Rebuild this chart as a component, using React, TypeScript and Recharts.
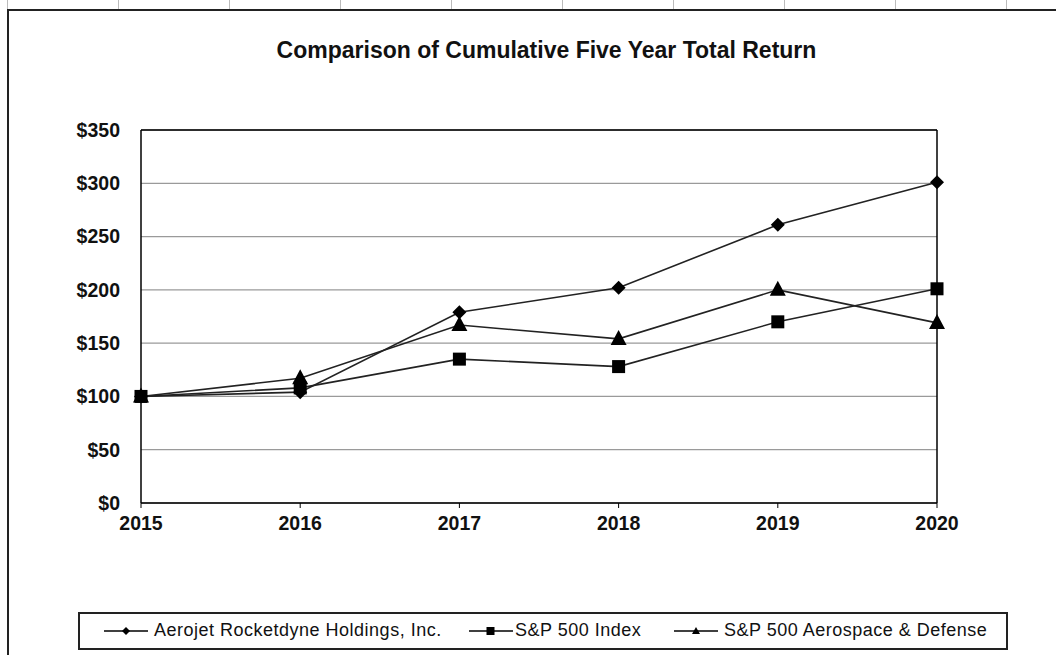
import type { FC } from "react";
import {
  CartesianGrid,
  Line,
  LineChart,
  ReferenceLine,
  XAxis,
  YAxis,
} from "recharts";

// values (indexed to $100 in 2015)
const years = [2015, 2016, 2017, 2018, 2019, 2020];
const aerojet = [100, 104, 179, 202, 261, 301];
const sp500 = [100, 108, 135, 128, 170, 201];
const aeroDefense = [100, 117, 167, 154, 200, 169];
const yTicks = [0, 50, 100, 150, 200, 250, 300, 350];

const seriesNames = [
  "Aerojet Rocketdyne Holdings, Inc.",
  "S&P 500 Index",
  "S&P 500 Aerospace & Defense",
];

const data = years.map((year, i) => ({
  year,
  aerojet: aerojet[i],
  sp500: sp500[i],
  aeroDefense: aeroDefense[i],
}));

const FONT = '"Liberation Sans", Arial, sans-serif';

type DotProps = { cx?: number; cy?: number };

const Diamond = ({ cx, cy }: DotProps) =>
  cx == null || cy == null ? null : (
    <path
      d={`M${cx},${cy - 7}L${cx + 7},${cy}L${cx},${cy + 7}L${cx - 7},${cy}Z`}
      fill="#000"
    />
  );

const Square = ({ cx, cy }: DotProps) =>
  cx == null || cy == null ? null : (
    <rect x={cx - 6.5} y={cy - 6.5} width={13} height={13} fill="#000" />
  );

const Triangle = ({ cx, cy }: DotProps) =>
  cx == null || cy == null ? null : (
    <path
      d={`M${cx},${cy - 9}L${cx + 8},${cy + 6}L${cx - 8},${cy + 6}Z`}
      fill="#000"
    />
  );

// small legend sample: line with marker in the middle
const LegendSample: FC<{ kind: number }> = ({ kind }) => (
  <svg width={44} height={14} style={{ display: "block" }}>
    <line x1={0} y1={7} x2={44} y2={7} stroke="#000" strokeWidth={1.5} />
    {kind === 0 && <path d="M22,3L26,7L22,11L18,7Z" fill="#000" />}
    {kind === 1 && <rect x={17.5} y={3} width={8} height={8} fill="#000" />}
    {kind === 2 && <path d="M22,3L26,10L18,10Z" fill="#000" />}
  </svg>
);

// legend item x positions (sample start, text start), relative to the box
const legendSampleX = [24, 389, 594];
const legendTextX = [74, 435, 644];

const App: FC = () => {
  const pageTicks = [7, 118, 229, 340, 451, 562, 673, 784, 895, 1006];
  return (
    <div
      style={{
        position: "absolute",
        left: 0,
        top: 0,
        width: 1056,
        height: 655,
        overflow: "hidden",
        background: "#fff",
        fontFamily: FONT,
      }}
    >
      {pageTicks.map((x) => (
        <div
          key={x}
          style={{
            position: "absolute",
            left: x,
            top: 0,
            width: 1,
            height: 9,
            background: "#bbb",
          }}
        />
      ))}
      {/* outer chart frame */}
      <div
        style={{
          position: "absolute",
          left: 7,
          top: 9,
          width: 1100,
          height: 700,
          borderLeft: "2px solid #222",
          borderTop: "2px solid #222",
        }}
      />
      <div
        style={{
          position: "absolute",
          left: 0,
          top: 37,
          width: 1093,
          textAlign: "center",
          fontSize: 23,
          fontWeight: "bold",
          color: "#111",
        }}
      >
        Comparison of Cumulative Five Year Total Return
      </div>

      <div style={{ position: "absolute", left: 0, top: 0 }}>
        <LineChart
          width={1056}
          height={655}
          data={data}
          margin={{ top: 130, right: 119, bottom: 122, left: 76 }}
        >
          <CartesianGrid
            horizontal
            vertical={false}
            stroke="#9a9a9a"
            strokeWidth={1.3}
          />
          <XAxis
            dataKey="year"
            type="number"
            domain={[2015, 2020]}
            ticks={years}
            height={30}
            axisLine={{ stroke: "#000", strokeWidth: 1.5 }}
            tickLine={{ stroke: "#000", strokeWidth: 1 }}
            tickSize={5}
            tick={{
              fill: "#111",
              fontSize: 19.5,
              fontWeight: "bold",
              fontFamily: FONT,
            }}
            tickMargin={8}
          />
          <YAxis
            domain={[0, 350]}
            ticks={yTicks}
            width={65}
            axisLine={{ stroke: "#000", strokeWidth: 1.5 }}
            tickLine={false}
            tickFormatter={(v: number) => `$${v}`}
            tick={{
              fill: "#111",
              fontSize: 19.5,
              fontWeight: "bold",
              fontFamily: FONT,
            }}
            tickMargin={15}
          />
          <ReferenceLine y={350} stroke="#000" strokeWidth={1.5} />
          <ReferenceLine x={2020} stroke="#000" strokeWidth={1.5} />
          <Line
            dataKey="aerojet"
            name={seriesNames[0]}
            type="linear"
            stroke="#222"
            strokeWidth={1.6}
            dot={<Diamond />}
            isAnimationActive={false}
          />
          <Line
            dataKey="sp500"
            name={seriesNames[1]}
            type="linear"
            stroke="#222"
            strokeWidth={1.6}
            dot={<Square />}
            isAnimationActive={false}
          />
          <Line
            dataKey="aeroDefense"
            name={seriesNames[2]}
            type="linear"
            stroke="#222"
            strokeWidth={1.6}
            dot={<Triangle />}
            isAnimationActive={false}
          />
        </LineChart>
      </div>

      {/* legend box */}
      <div
        style={{
          position: "absolute",
          left: 78,
          top: 612,
          width: 930,
          height: 38,
          boxSizing: "border-box",
          border: "2px solid #222",
          fontSize: 18,
          letterSpacing: 0.5,
          color: "#111",
        }}
      >
        {seriesNames.map((name, i) => (
          <div key={name}>
            <div
              style={{ position: "absolute", left: legendSampleX[i], top: 10 }}
            >
              <LegendSample kind={i} />
            </div>
            <span
              style={{
                position: "absolute",
                left: legendTextX[i],
                top: 6,
                whiteSpace: "nowrap",
              }}
            >
              {name}
            </span>
          </div>
        ))}
      </div>
    </div>
  );
};

export default App;
